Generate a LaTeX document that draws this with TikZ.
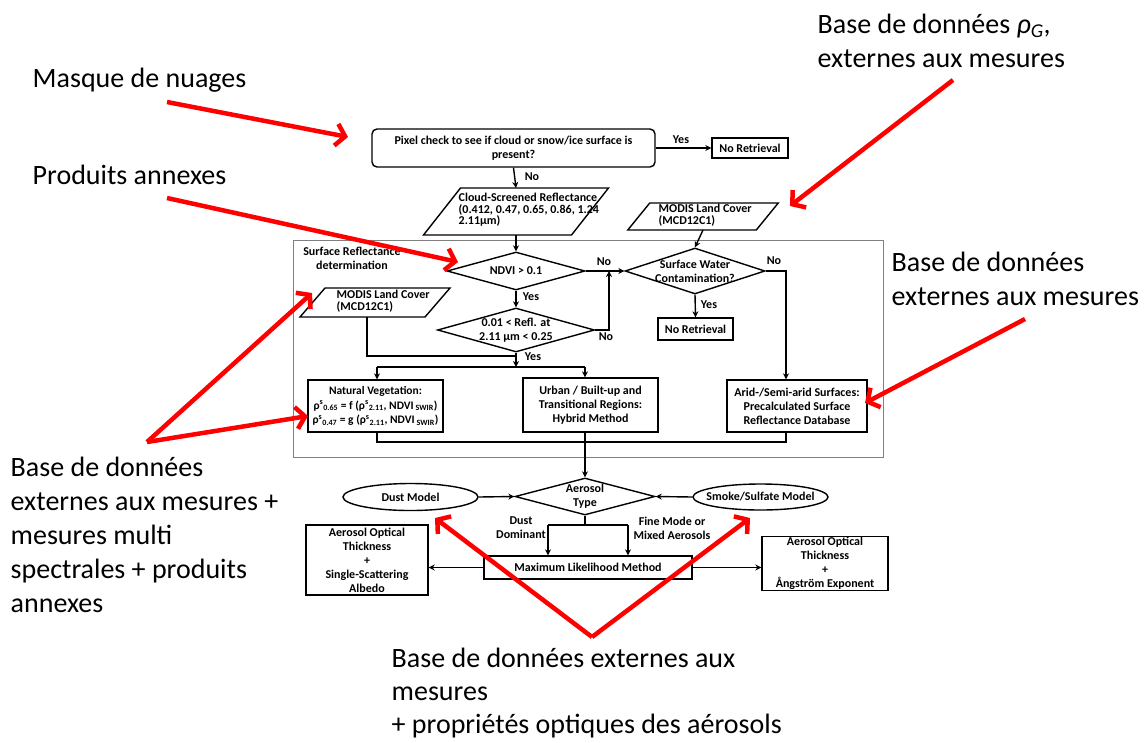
\documentclass[tikz,border=0pt]{standalone}
\usepackage{fontspec}
\setmainfont{Carlito}
\usetikzlibrary{arrows.meta,shapes.geometric,calc}
\newcommand\dgfont{\fontsize{12}{14}\selectfont\bfseries}
\newcommand\dgtight{\fontsize{12}{11.5}\selectfont\bfseries}
\newcommand\dgsmall{\fontsize{11.5}{14.5}\selectfont\bfseries}
\newcommand\anfont{\fontsize{28}{34}\selectfont}
\begin{document}
\begin{tikzpicture}[x=1pt,y=-1pt,
  line width=1.4pt,
  arr/.style={-{Stealth[length=6pt,width=6pt]}},
  box/.style={draw, rectangle, font=\dgfont, align=center, inner sep=1pt},
  dia/.style={draw, diamond, inner sep=0pt},
  ell/.style={draw, ellipse, inner sep=0pt},
  lbl/.style={font=\dgfont, align=center, inner sep=1pt},
  tlbl/.style={font=\dgtight, align=left, inner sep=0pt, anchor=west},
  para/.style={inner sep=0pt, outer sep=0pt},
  ann/.style={font=\anfont, align=left, inner sep=0pt, anchor=west},
  redarr/.style={draw=red, line width=4.5pt, -{Straight Barb[length=9pt,width=22pt]}}
]
\useasboundingbox (0,0) rectangle (1147,742);

% surface reflectance frame
\node[draw=gray, line width=0.8pt, minimum width=590pt, minimum height=217pt, inner sep=0pt] (srd) at (588,348.5) {};
\node[lbl] (srdl) at (352,258) {Surface Reflectance\\determination};

% top part
\node[box, rounded corners=5pt, minimum width=283pt, minimum height=38pt] (pix) at (513.5,148) {Pixel check to see if cloud or snow/ice surface is\\present?};
\node[box, minimum width=76pt, minimum height=20pt] (nr1) at (750,148) {No Retrieval};

\node[para, minimum width=148pt, minimum height=47pt] (cs) at (516,211.5) {};
\draw ([xshift=-18.5pt]cs.south west) -- ([xshift=18.5pt]cs.north west) -- ([xshift=18.5pt]cs.north east) -- ([xshift=-18.5pt]cs.south east) -- cycle;
\node[tlbl] (cst) at (458,210) {Cloud-Screened Reflectance\\(0.412, 0.47, 0.65, 0.86, 1.24\\2.11µm)};

\node[para, minimum width=128.5pt, minimum height=27pt] (mr) at (703,216.5) {};
\draw ([xshift=-11pt]mr.south west) -- ([xshift=11pt]mr.north west) -- ([xshift=11pt]mr.north east) -- ([xshift=-11pt]mr.south east) -- cycle;
\node[tlbl] (mrt) at (658,215) {MODIS Land Cover\\(MCD12C1)};

\node[para, minimum width=125pt, minimum height=29pt] (ml) at (375,302.5) {};
\draw ([xshift=-12.5pt]ml.south west) -- ([xshift=12.5pt]ml.north west) -- ([xshift=12.5pt]ml.north east) -- ([xshift=-12.5pt]ml.south east) -- cycle;
\node[tlbl] (mlt) at (336,301) {MODIS Land Cover\\(MCD12C1)};

\node[dia, minimum width=138pt, minimum height=38pt, label={[lbl]center:{NDVI > 0.1}}] (ndvi) at (516,271) {};
\node[dia, minimum width=157pt, minimum height=44pt, label={[lbl]center:{0.01 < Refl. at\\2.11 µm < 0.25}}] (ref) at (516,330) {};
\node[dia, minimum width=140pt, minimum height=46pt, label={[lbl]center:{Surface Water\\Contamination?}}] (sw) at (695,271) {};
\node[box, minimum width=75pt, minimum height=22pt] (nr2) at (695.5,329) {No Retrieval};

% boxes
\node[box, font=\dgsmall, minimum width=135pt, minimum height=52pt, inner sep=0pt] (nv) at (375.5,406) {Natural Vegetation:\\
ρ\textsuperscript{s}\textsubscript{0.65} = f (ρ\textsuperscript{s}\textsubscript{2.11}, NDVI\,\textsubscript{SWIR})\\
ρ\textsuperscript{s}\textsubscript{0.47} = g (ρ\textsuperscript{s}\textsubscript{2.11}, NDVI\,\textsubscript{SWIR})};
\node[box, minimum width=135pt, minimum height=54pt] (ub) at (590.5,405) {Urban / Built-up and\\Transitional Regions:\\Hybrid Method};
\node[box, minimum width=140pt, minimum height=52pt] (ar) at (797,406) {Arid-/Semi-arid Surfaces:\\Precalculated Surface\\Reflectance Database};

% lower part
\node[ell, minimum width=135pt, minimum height=27pt, label={[lbl]center:{Dust Model}}] (dust) at (410.5,497) {};
\node[ell, minimum width=135pt, minimum height=26pt, label={[lbl]center:{Smoke/Sulfate Model}}] (smoke) at (760.5,497) {};
\node[dia, minimum width=140pt, minimum height=37pt, label={[lbl]center:{Aerosol\\Type}}] (at) at (585,496.5) {};
\node[box, minimum width=208pt, minimum height=23pt] (mlm) at (588,567.5) {Maximum Likelihood Method};
\node[box, minimum width=122pt, minimum height=70pt] (aot1) at (367,560) {Aerosol Optical\\Thickness\\+\\Single-Scattering\\Albedo};
\node[box, minimum width=126pt, minimum height=53pt] (aot2) at (825,563.5) {Aerosol Optical\\Thickness\\+\\Ångström Exponent};

% connector labels
\node[lbl] (yes1) at (681,140) {Yes};
\node[lbl] (no1) at (532,177) {No};
\node[lbl] (no2) at (604,262) {No};
\node[lbl] (yes2) at (531,297) {Yes};
\node[lbl] (no3) at (606,337) {No};
\node[lbl] (yes3) at (533,357) {Yes};
\node[lbl] (no4) at (774,261) {No};
\node[lbl] (yes4) at (709,305) {Yes};
\node[lbl] (dd) at (521,528) {Dust\\Dominant};
\node[lbl] (fm) at (672,528) {Fine Mode or\\Mixed Aerosols};

% connectors
\draw[arr] (pix.east) -- (nr1.west);
\draw[arr] (pix.south) -- (cs.north);
\draw[arr] (cs.south) -- (ndvi.north);
\draw[arr] (ndvi.east) -- (sw.west);
\coordinate (jn) at (609,271);
\draw[arr] (ref.east) -| (jn);
\draw[arr] (ndvi.south) -- (ref.north);
\draw[arr] (sw.south) -- (nr2.north);
\draw[arr] (mr.south) -- (sw.north);
\draw[arr] (sw.east) -| ([xshift=-11pt]ar.north);
\coordinate (dl) at (377,367);
\coordinate (dr) at (585,367);
\coordinate (mj) at (516,356);
\draw[arr] (ref.south) -- (ref.south |- dl);
\draw ([xshift=-8pt]ml.south) |- (mj);
\draw (dl) -- (dr);
\draw[arr] (dl) -- (dl |- nv.north);
\draw[arr] (dr) -- (dr |- ub.north);
\coordinate (cl) at (377,442);
\draw (nv.south -| cl) -- (cl) -| ([xshift=-11pt]ar.south);
\draw[arr] (ub.south -| at.north) -- (at.north);
\draw[arr] (dust.east) -- (at.west);
\draw[arr] (smoke.west) -- (at.east);
\coordinate (bl) at (548,525);
\coordinate (br) at (628,525);
\draw (at.south) -- (at.south |- bl);
\draw (bl) -- (br);
\draw[arr] (bl) -- (bl |- mlm.north);
\draw[arr] (br) -- (br |- mlm.north);
\draw[arr] (mlm.west) -- (mlm.west -| aot1.east);
\draw[arr] (mlm.east) -- (mlm.east -| aot2.west);

% annotations
\node[ann] (a1) at (32,80) {Masque de nuages};
\node[ann] (a2) at (32,175) {Produits annexes};
\node[ann] (a3) at (817,41) {Base de données \textit{ρ}\textsubscript{\textit{G}},\\externes aux mesures};
\node[ann] (a4) at (891,279) {Base de données\\externes aux mesures};
\node[ann] (a5) at (10,535) {Base de données\\externes aux mesures +\\mesures multi\\spectrales + produits\\annexes};
\node[ann, font=\fontsize{28}{33}\selectfont] (a6) at (391,693) {Base de données externes aux\\mesures\\+ propriétés optiques des aérosols};

% red arrows
\coordinate (r1s) at (167,102); \coordinate (r1e) at (348,137);
\coordinate (r2s) at (167,198); \coordinate (r2e) at (458,262);
\coordinate (r3s) at (953,80);  \coordinate (r3e) at (790,206);
\coordinate (r4s) at (1025,319); \coordinate (r4e) at (865,403);
\coordinate (r5a) at (147,442); \coordinate (r5b) at (312,293); \coordinate (r5c) at (308,416);
\coordinate (r6a) at (592,637); \coordinate (r6b) at (435,518); \coordinate (r6c) at (750,518);
\draw[redarr] (r1s) -- (r1e);
\draw[redarr] (r2s) -- (r2e);
\draw[redarr] (r3s) -- (r3e);
\draw[redarr] (r4s) -- (r4e);
\draw[redarr] (r5a) -- (r5b);
\draw[redarr] (r5a) -- (r5c);
\draw[redarr] (r6a) -- (r6b);
\draw[redarr] (r6a) -- (r6c);
\end{tikzpicture}
\end{document}
